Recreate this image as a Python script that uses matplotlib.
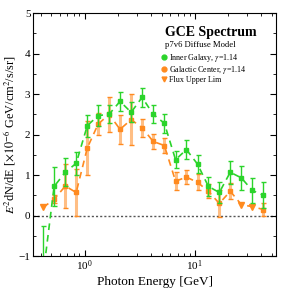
import matplotlib
matplotlib.use("Agg")
import matplotlib.pyplot as plt
from matplotlib.lines import Line2D
from matplotlib.ticker import LogLocator, MultipleLocator, NullFormatter

plt.rcParams['font.family'] = ['Liberation Serif', 'DejaVu Serif']
plt.rcParams['mathtext.fontset'] = 'stix'

# photon energy bins [GeV]
energy = [0.42, 0.53, 0.67, 0.84, 1.06, 1.33, 1.67, 2.1, 2.65, 3.33, 4.2,
          5.3, 6.7, 8.4, 10.6, 13.3, 16.7, 21.0, 26.5, 33.3, 42.0]

# inner galaxy, gamma = 1.14
ig_flux = [-1.5, 0.72, 1.07, 1.29, 2.22, 2.47, 2.5, 2.82, 2.55, 2.92, 2.5,
           2.28, 1.38, 1.63, 1.27, 0.72, 0.57, 1.07, 0.93, 0.62, 0.5]
ig_err = [1.25, 0.48, 0.35, 0.29, 0.27, 0.25, 0.22, 0.23, 0.25, 0.23, 0.22,
          0.23, 0.21, 0.24, 0.23, 0.24, 0.26, 0.28, 0.3, 0.31, 0.32]

# galactic center, gamma = 1.14 (upper limits flagged)
gc_flux = [0.2, 0.4, 0.73, 0.57, 1.67, 2.26, 2.5, 2.13, 2.37, 2.17, 1.83,
           1.73, 0.85, 0.95, 0.82, 0.6, 0.3, 0.6, 0.27, 0.22, 0.15]
gc_err = [0.0, 0.1, 0.55, 0.57, 0.66, 0.28, 0.43, 0.36, 0.63, 0.22, 0.18,
          0.18, 0.23, 0.17, 0.2, 0.17, 0.33, 0.2, 0.0, 0.0, 0.15]
gc_uplim = [True, False, False, False, False, False, False, False, False, False, False,
            False, False, False, False, False, False, False, True, True, False]

green = '#2bd42b'
orange = '#ff8a1f'

fig = plt.figure(figsize=(2.82, 2.91), dpi=100)
ax = fig.add_axes([0.118, 0.12, 0.862, 0.835])

# zero line
ax.axhline(0, color='#555555', ls=(0, (1.5, 1.5)), lw=1.0, zorder=1)

# galactic center
ax.plot(energy, gc_flux, ls=(0, (4, 3)), color=orange, lw=1.2, zorder=2)
det_e = [e for e, u in zip(energy, gc_uplim) if not u]
det_f = [f for f, u in zip(gc_flux, gc_uplim) if not u]
det_s = [s for s, u in zip(gc_err, gc_uplim) if not u]
eb = ax.errorbar(det_e, det_f, yerr=det_s, fmt='s', ms=2.2, color=orange,
                 ecolor=orange, elinewidth=2.2, capsize=1.8, capthick=1,
                 zorder=3)
for line in eb.lines[2]:
    line.set_alpha(0.55)
ul_e = [e for e, u in zip(energy, gc_uplim) if u]
ul_f = [f for f, u in zip(gc_flux, gc_uplim) if u]
ax.plot(ul_e, ul_f, 'v', color=orange, ms=4.5, zorder=4)

# inner galaxy
ax.plot(energy, ig_flux, ls=(0, (4, 3)), color=green, lw=1.2, zorder=5)
ax.errorbar(energy, ig_flux, yerr=ig_err, fmt='s', ms=2.2, color=green,
            ecolor=green, elinewidth=1.0, capsize=1.8, capthick=1, zorder=6)

ax.set_xscale('log')
ax.set_xlim(0.343, 55)
ax.set_ylim(-1, 5)
ax.xaxis.set_major_locator(LogLocator(base=10, numticks=10))
ax.xaxis.set_minor_locator(LogLocator(base=10, subs=range(2, 10), numticks=20))
ax.xaxis.set_minor_formatter(NullFormatter())
ax.yaxis.set_major_locator(MultipleLocator(1))
ax.yaxis.set_minor_locator(MultipleLocator(0.5))
ax.tick_params(which='both', direction='in', top=True, right=True, labelsize=8,
               pad=2)
ax.tick_params(which='major', length=4)
ax.tick_params(which='minor', length=2)

ax.set_xlabel('Photon Energy [GeV]', fontsize=9.5, labelpad=2)
ax.set_ylabel(r'$E^2$dN/dE [$\times 10^{-6}$ GeV/cm$^2$/s/sr]', fontsize=8.8,
              labelpad=1)

ax.text(0.54, 0.922, 'GCE Spectrum', transform=ax.transAxes, ha='left',
        va='center', fontsize=10, fontweight='bold')
ax.text(0.54, 0.868, 'p7v6 Diffuse Model', transform=ax.transAxes, ha='left',
        va='center', fontsize=6.2)

handles = [Line2D([], [], marker='o', ls='', color=green, ms=3.5),
           Line2D([], [], marker='o', ls='', color=orange, ms=3.5),
           Line2D([], [], marker='v', ls='', color=orange, ms=3.5)]
labels = [r'Inner Galaxy, $\gamma$=1.14', r'Galactic Center, $\gamma$=1.14',
          'Flux Upper Lim']
ax.legend(handles, labels, loc='upper left', bbox_to_anchor=(0.525, 0.84),
          frameon=False, fontsize=5.8, handletextpad=0.2, handlelength=0.8,
          labelspacing=0.0, borderpad=0.0, borderaxespad=0)

plt.savefig('out.png', dpi=100)
